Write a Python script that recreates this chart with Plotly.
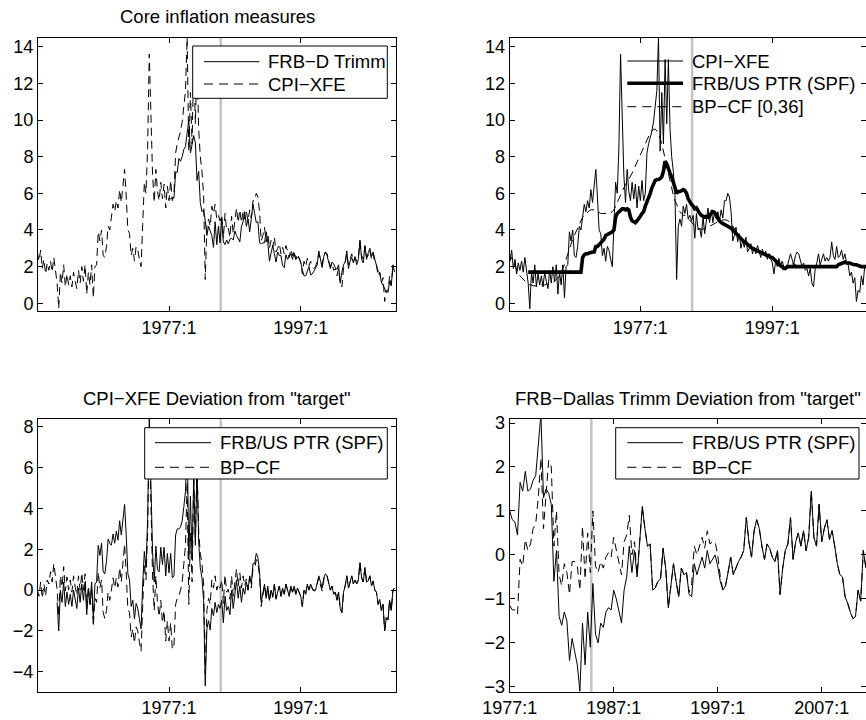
import numpy as np
import plotly.graph_objects as go

# ---------------------------------------------------------------- data
# quarterly observations, 1957:1 - 2011:2 (annualised rates, percent)
years = list(range(1957, 2012))
quarters = [y + q / 4 for y in years for q in range(4)][:218]

cpi_xfe = [
    2.8, 2.3, 2.9, 1.9,   # 1957
    2.4, 1.6, 2.2, 1.8,   # 1958
    2.3, 1.7, 2.5, 1.6,   # 1959
    1.1, -0.3, 1.7, 1.1,  # 1960
    2.1, 0.9, 1.6, 1.0,   # 1961
    1.5, 0.9, 1.7, 1.2,   # 1962
    0.8, 1.8, 1.1, 2.0,   # 1963
    1.2, 2.1, 0.5, 1.7,   # 1964
    1.0, 2.1, 0.3, 2.0,   # 1965
    2.1, 3.9, 3.4, 4.0,   # 1966
    2.6, 2.5, 3.1, 4.2,   # 1967
    4.0, 4.7, 5.4, 5.0,   # 1968
    5.6, 5.2, 6.2, 5.5,   # 1969
    6.3, 7.3, 5.8, 4.0,   # 1970
    3.8, 2.6, 3.0, 2.3,   # 1971
    3.1, 2.9, 2.4, 2.0,   # 1972
    4.3, 6.6, 6.0, 8.5,   # 1973
    13.6, 10.2, 7.0, 5.5,  # 1974
    7.3, 6.1, 5.6, 6.6,   # 1975
    5.7, 6.5, 5.2, 6.4,   # 1976
    5.6, 6.7, 5.6, 6.0,   # 1977
    8.2, 8.7, 9.0, 9.4,   # 1978
    9.9, 10.8, 11.6, 14.5,  # 1979
    8.3, 11.5, 8.7, 13.3,  # 1980
    9.8, 13.3, 9.5, 8.0,  # 1981
    7.2, 5.9, 1.3, 4.2,   # 1982
    4.6, 4.2, 5.3, 4.9,   # 1983
    5.4, 4.6, 4.8, 4.5,   # 1984
    4.8, 3.55, 4.9, 4.0,  # 1985
    4.1, 3.6, 4.75, 3.8,  # 1986
    4.45, 5.2, 4.4, 5.1,  # 1987
    4.4, 5.05, 4.6, 5.0,  # 1988
    4.5, 5.1, 4.65, 5.6,  # 1989
    5.6, 6.0, 5.8, 5.0,   # 1990
    3.4, 3.7, 4.15, 3.35,  # 1991
    3.8, 3.0, 3.45, 3.05,  # 1992
    3.6, 2.8, 3.0, 3.25,  # 1993
    2.7, 3.05, 2.7, 3.15,  # 1994
    2.85, 2.5, 2.95, 2.6,  # 1995
    2.85, 2.4, 2.7, 2.4,  # 1996
    2.2, 1.6, 2.3, 2.0,   # 1997
    2.45, 2.05, 2.3, 2.0,  # 1998
    1.9, 2.0, 2.3, 2.7,   # 1999
    2.4, 2.1, 2.6, 2.8,   # 2000
    2.7, 2.3, 2.0, 2.2,   # 2001
    1.8, 1.9, 1.5, 1.9,   # 2002
    1.1, 0.9, 1.9, 2.2,   # 2003
    2.7, 2.1, 2.4, 2.7,   # 2004
    2.3, 2.5, 2.3, 2.5,   # 2005
    3.35, 2.6, 2.4, 3.1,  # 2006
    2.5, 2.6, 2.9, 2.4,   # 2007
    2.7, 2.2, 2.1, 1.5,   # 2008
    1.7, 1.1, 1.4, 0.1,   # 2009
    0.7, 0.6, 1.5, 1.0,   # 2010
    2.0, 2.1,             # 2011
]

frbus_ptr = [None] * 12 + [   # series begins 1960:1
    1.7, 1.7, 1.7, 1.7,   # 1960
    1.7, 1.7, 1.7, 1.7,   # 1961
    1.7, 1.7, 1.7, 1.7,   # 1962
    1.7, 1.7, 1.7, 1.7,   # 1963
    1.7, 1.7, 1.7, 1.7,   # 1964
    1.7, 1.7, 1.7, 1.7,   # 1965
    1.7, 1.7, 1.7, 1.7,   # 1966
    1.7, 1.7, 1.7, 1.7,   # 1967
    1.7, 2.5, 2.65, 2.7,  # 1968
    2.7, 2.75, 2.8, 2.8,  # 1969
    2.8, 3.1, 3.1, 3.2,   # 1970
    3.3, 3.4, 3.5, 3.7,   # 1971
    3.75, 3.8, 3.8, 3.9,  # 1972
    4.0, 4.7, 4.9, 5.0,   # 1973
    5.1, 5.15, 5.15, 5.1,  # 1974
    5.15, 5.1, 4.7, 4.5,  # 1975
    4.45, 4.4, 4.5, 4.6,  # 1976
    4.75, 4.9, 5.0, 5.3,  # 1977
    5.5, 5.7, 6.0, 6.3,   # 1978
    6.5, 6.7, 6.75, 6.75,  # 1979
    6.8, 6.9, 7.2, 7.75,  # 1980
    7.6, 7.3, 7.1, 6.9,   # 1981
    6.6, 6.4, 6.0, 6.1,   # 1982
    6.1, 6.15, 6.2, 6.15,  # 1983
    6.0, 5.7, 5.5, 5.4,   # 1984
    5.3, 5.15, 5.2, 5.0,  # 1985
    4.9, 4.8, 4.75, 4.7,  # 1986
    4.75, 4.7, 4.8, 4.9,  # 1987
    5.0, 4.95, 4.8, 4.6,  # 1988
    4.5, 4.4, 4.35, 4.3,  # 1989
    4.3, 4.2, 4.2, 4.1,   # 1990
    4.0, 3.9, 3.85, 3.75,  # 1991
    3.6, 3.5, 3.45, 3.35,  # 1992
    3.3, 3.2, 3.1, 3.05,  # 1993
    3.0, 2.95, 2.9, 2.85,  # 1994
    2.85, 2.8, 2.75, 2.7,  # 1995
    2.65, 2.6, 2.6, 2.5,  # 1996
    2.5, 2.4, 2.3, 2.2,   # 1997
    2.15, 2.05, 2.0, 1.9,  # 1998
    1.9, 2.0, 2.0, 2.0,   # 1999
    2.0, 2.0, 2.0, 2.0,   # 2000
    2.0, 2.0, 2.0, 2.0,   # 2001
    2.0, 2.0, 2.0, 2.0,   # 2002
    2.0, 2.0, 2.0, 2.0,   # 2003
    2.0, 2.0, 2.0, 2.0,   # 2004
    2.0, 2.0, 2.0, 2.0,   # 2005
    2.0, 2.0, 2.0, 2.0,   # 2006
    2.1, 2.15, 2.2, 2.2,  # 2007
    2.25, 2.2, 2.2, 2.2,  # 2008
    2.15, 2.1, 2.1, 2.1,  # 2009
    2.05, 2.05, 2.0, 2.0,  # 2010
    2.0, 2.0,             # 2011
]

bp_cf = [
    2.8, 2.6, 2.5, 2.3,   # 1957
    2.1, 1.9, 1.7, 1.5,   # 1958
    1.4, 1.3, 1.2, 1.1,   # 1959
    1.05, 1.0, 1.0, 0.95,  # 1960
    0.95, 0.95, 0.95, 1.0,  # 1961
    1.0, 1.0, 1.0, 1.05,  # 1962
    1.05, 1.1, 1.1, 1.15,  # 1963
    1.2, 1.3, 1.4, 1.5,   # 1964
    1.7, 1.9, 2.1, 2.4,   # 1965
    2.7, 3.0, 3.3, 3.5,   # 1966
    3.7, 3.9, 4.1, 4.3,   # 1967
    4.5, 4.7, 4.8, 4.9,   # 1968
    5.0, 5.05, 5.1, 5.1,  # 1969
    5.1, 5.05, 5.0, 4.95,  # 1970
    4.9, 4.9, 4.9, 4.9,   # 1971
    4.9, 4.9, 4.95, 5.0,  # 1972
    5.1, 5.3, 5.5, 5.7,   # 1973
    5.9, 6.1, 6.3, 6.5,   # 1974
    6.6, 6.75, 6.9, 7.1,  # 1975
    7.3, 7.5, 7.7, 7.9,   # 1976
    8.1, 8.3, 8.5, 8.7,   # 1977
    8.9, 9.1, 9.3, 9.4,   # 1978
    9.5, 9.5, 9.4, 9.2,   # 1979
    9.0, 8.7, 8.3, 7.9,   # 1980
    7.4, 7.0, 6.6, 6.2,   # 1981
    5.9, 5.6, 5.4, 5.2,   # 1982
    5.0, 4.9, 4.8, 4.8,   # 1983
    4.7, 4.6, 4.5, 4.4,   # 1984
    4.3, 4.2, 4.15, 4.1,  # 1985
    4.05, 4.05, 4.05, 4.1,  # 1986
    4.1, 4.15, 4.2, 4.25,  # 1987
    4.3, 4.35, 4.4, 4.45,  # 1988
    4.5, 4.5, 4.55, 4.55,  # 1989
    4.55, 4.5, 4.45, 4.35,  # 1990
    4.2, 4.05, 3.9, 3.75,  # 1991
    3.65, 3.55, 3.45, 3.4,  # 1992
    3.35, 3.25, 3.15, 3.05,  # 1993
    3.0, 2.95, 2.9, 2.85,  # 1994
    2.85, 2.8, 2.75, 2.7,  # 1995
    2.65, 2.6, 2.6, 2.5,  # 1996
    2.5, 2.4, 2.3, 2.2,   # 1997
    2.15, 2.05, 2.0, 1.95,  # 1998
    1.95, 2.0, 2.05, 2.1,  # 1999
    2.15, 2.15, 2.1, 2.05,  # 2000
    2.0, 2.0, 2.0, 2.0,   # 2001
    2.0, 2.0, 2.0, 2.0,   # 2002
    2.0, 2.0, 2.0, 2.0,   # 2003
    2.0, 2.0, 2.0, 2.0,   # 2004
    2.0, 2.0, 2.0, 2.0,   # 2005
    2.0, 2.0, 2.0, 2.0,   # 2006
    2.1, 2.15, 2.2, 2.2,  # 2007
    2.25, 2.2, 2.2, 2.2,  # 2008
    2.15, 2.1, 2.1, 2.1,  # 2009
    2.05, 2.05, 2.0, 2.0,  # 2010
    2.0, 2.0,             # 2011
]

# Dallas Fed trimmed-mean, 1977:1 - 2011:2
dallas_trimm = [
    5.75, 5.7, 5.75, 5.75,  # 1977
    7.15, 7.15, 7.9, 7.75,  # 1978
    8.0, 8.4, 8.55, 9.15,  # 1979
    10.0, 8.2, 8.7, 9.15,  # 1980
    8.75, 6.7, 7.2, 5.5,  # 1981
    5.0, 5.1, 4.5, 3.7,   # 1982
    4.2, 3.95, 3.7, 3.05,  # 1983
    4.45, 3.2, 4.2, 3.3,  # 1984
    4.65, 3.35, 3.2, 3.45,  # 1985
    3.25, 3.5, 3.55, 3.45,  # 1986
    3.95, 3.7, 3.5, 3.35,  # 1987
    4.2, 4.45, 5.0, 4.2,  # 1988
    4.6, 3.9, 4.65, 5.4,  # 1989
    4.9, 4.4, 4.45, 3.3,  # 1990
    3.25, 3.3, 3.3, 3.9,  # 1991
    3.3, 2.3, 2.75, 3.15,  # 1992
    2.7, 2.25, 2.8, 2.6,  # 1993
    2.6, 2.05, 1.95, 2.65,  # 1994
    2.4, 2.55, 2.7, 2.4,  # 1995
    2.75, 2.4, 2.5, 2.5,  # 1996
    2.25, 1.8, 1.5, 1.5,  # 1997
    1.75, 2.0, 1.55, 1.6,  # 1998
    1.75, 1.95, 2.1, 2.85,  # 1999
    2.3, 1.95, 2.55, 2.8,  # 2000
    2.6, 2.2, 1.9, 2.25,  # 2001
    2.15, 1.95, 1.85, 2.1,  # 2002
    1.1, 1.7, 2.1, 2.25,  # 2003
    2.85, 1.9, 2.3, 2.5,  # 2004
    2.2, 2.55, 2.1, 2.4,  # 2005
    3.45, 2.4, 2.2, 3.15,  # 2006
    2.4, 2.75, 3.0, 2.55,  # 2007
    2.8, 2.4, 2.0, 1.75,  # 2008
    1.65, 1.15, 1.0, 0.8,  # 2009
    0.6, 0.65, 1.2, 0.95,  # 2010
    2.1, 1.7,             # 2011
]

# band-pass (CF) trend of the trimmed-mean series, 1977:1 - 2011:2
trimm_bp_trend = [
    6.9, 6.95, 7.0, 7.1,  # 1977
    7.25, 7.4, 7.55, 7.65,  # 1978
    7.75, 7.8, 7.85, 7.85,  # 1979
    7.8, 7.6, 7.3, 7.0,   # 1980
    6.75, 6.5, 6.2, 5.95,  # 1981
    5.7, 5.3, 4.9, 4.6,   # 1982
    4.35, 4.1, 3.95, 3.85,  # 1983
    3.8, 3.75, 3.7, 3.7,  # 1984
    3.65, 3.6, 3.6, 3.6,  # 1985
    3.55, 3.55, 3.5, 3.5,  # 1986
    3.55, 3.6, 3.7, 3.8,  # 1987
    3.9, 4.0, 4.1, 4.2,   # 1988
    4.3, 4.35, 4.35, 4.3,  # 1989
    4.3, 4.2, 4.2, 4.1,   # 1990
    4.0, 3.9, 3.85, 3.75,  # 1991
    3.6, 3.5, 3.45, 3.35,  # 1992
    3.3, 3.2, 3.1, 3.05,  # 1993
    3.0, 2.9, 2.6, 2.45,  # 1994
    2.4, 2.35, 2.3, 2.25,  # 1995
    2.2, 2.15, 2.2, 2.2,  # 1996
    2.25, 2.3, 2.3, 2.2,  # 1997
    2.15, 2.05, 2.0, 1.9,  # 1998
    1.9, 2.0, 2.0, 2.0,   # 1999
    2.0, 2.0, 2.0, 2.0,   # 2000
    2.0, 2.0, 2.0, 2.0,   # 2001
    2.0, 2.0, 2.0, 2.0,   # 2002
    2.0, 2.0, 2.0, 2.0,   # 2003
    2.0, 2.0, 2.0, 2.0,   # 2004
    2.0, 2.0, 2.0, 2.0,   # 2005
    2.0, 2.0, 2.0, 2.0,   # 2006
    2.1, 2.15, 2.2, 2.2,  # 2007
    2.25, 2.2, 2.2, 2.2,  # 2008
    2.15, 2.1, 2.1, 2.1,  # 2009
    2.05, 2.05, 2.0, 2.0,  # 2010
    2.0, 2.0,             # 2011
]

break_date = 1984.85   # vertical marker in every panel

tick_top = [1977, 1997]
tick_top_text = ["1977:1", "1997:1"]
tick_br = [1977, 1987, 1997, 2007]
tick_br_text = ["1977:1", "1987:1", "1997:1", "2007:1"]

# ---------------------------------------------------------------- derived
q = np.array(quarters)
cpi = np.array(cpi_xfe, dtype=float)
ptr = np.array(frbus_ptr, dtype=float)
bpcf = np.array(bp_cf, dtype=float)
start_trimm = quarters.index(1977.0)
q_trimm = q[start_trimm:start_trimm + len(dallas_trimm)]
trimm = np.array(dallas_trimm, dtype=float)
trimm_trend = np.array(trimm_bp_trend, dtype=float)

cpi_gap_ptr = cpi - ptr
cpi_gap_bp = cpi - bpcf
trimm_gap_ptr = trimm - ptr[start_trimm:start_trimm + len(trimm)]
trimm_gap_bp = trimm - trimm_trend

# ---------------------------------------------------------------- figure
W, H = 866, 720
FONT = "Liberation Sans, Arial, Helvetica, sans-serif"
TXT = 18.5
DASH = "8px,5px"


def px(x):
    return x / W


def py(y):
    return 1 - y / H


fig = go.Figure()


def line(x, y, ax, width=1.0, dash=None):
    fig.add_trace(go.Scatter(
        x=x, y=y, mode="lines", xaxis="x" + ax, yaxis="y" + ax,
        line=dict(color="black", width=width, dash=dash),
        hoverinfo="skip", showlegend=False, connectgaps=False))


# top left: core measures
line(q_trimm, trimm, "")
line(q, cpi, "", dash=DASH)
# top right: CPI-XFE with trend estimates
line(q, cpi, "2")
line(q, ptr, "2", width=3.6)
line(q, bpcf, "2", dash=DASH)
# bottom left: CPI-XFE gaps
line(q, cpi_gap_ptr, "3")
line(q, cpi_gap_bp, "3", dash=DASH)
# bottom right: trimmed-mean gaps
line(q_trimm, trimm_gap_ptr, "4")
line(q_trimm, trimm_gap_bp, "4", dash=DASH)

dom_left = [px(38), px(396)]
dom_right = [px(509.7), 1.0]
dom_top = [py(311), py(37.7)]
dom_bot = [py(691.7), py(418.6)]

axis_common = dict(
    showgrid=False, zeroline=False, showline=True, linecolor="black",
    linewidth=1, mirror="ticks", ticks="inside", ticklen=5, tickwidth=1,
    tickcolor="black", automargin=False,
    tickfont=dict(family=FONT, size=18, color="black"),
)

fig.update_layout(
    template="none",
    width=W, height=H, margin=dict(l=0, r=0, t=0, b=0, pad=0),
    paper_bgcolor="white", plot_bgcolor="white", showlegend=False,
    font=dict(family=FONT, size=18, color="black"),
    xaxis=dict(domain=dom_left, range=[1957.1, 2011.47], anchor="y",
               tickvals=tick_top, ticktext=tick_top_text, **axis_common),
    yaxis=dict(domain=dom_top, range=[-0.42, 14.49], anchor="x",
               tickvals=list(range(0, 15, 2)), **axis_common),
    xaxis2=dict(domain=dom_right, range=[1957.2, 2011.2], anchor="y2",
                tickvals=tick_top, ticktext=tick_top_text, **axis_common),
    yaxis2=dict(domain=dom_top, range=[-0.42, 14.49], anchor="x2",
                tickvals=list(range(0, 15, 2)), **axis_common),
    xaxis3=dict(domain=dom_left, range=[1957.1, 2011.47], anchor="y3",
                tickvals=tick_top, ticktext=tick_top_text, **axis_common),
    yaxis3=dict(domain=dom_bot, range=[-4.98, 8.41], anchor="x3",
                tickvals=list(range(-4, 9, 2)), **axis_common),
    xaxis4=dict(domain=dom_right, range=[1977.0, 2011.26], anchor="y4",
                tickvals=tick_br, ticktext=tick_br_text, **axis_common),
    yaxis4=dict(domain=dom_bot, range=[-3.11, 3.1], anchor="x4",
                tickvals=list(range(-3, 4)), **axis_common),
)

shapes = []
# break-date marker
for ax in ["", "2", "3", "4"]:
    shapes.append(dict(type="line", xref="x" + ax, yref="y" + ax + " domain",
                       x0=break_date, x1=break_date, y0=0, y1=1,
                       line=dict(color="#c4c4c4", width=2.5), layer="below"))

annotations = []


def legend(box, x0, x1, rows):
    """Box (or none), sample lines and labels, in pixel positions."""
    if box is not None:
        bx0, by0, bx1, by1 = box
        shapes.append(dict(type="rect", xref="paper", yref="paper",
                           x0=px(bx0), x1=px(bx1), y0=py(by1), y1=py(by0),
                           fillcolor="white", line=dict(color="black", width=1),
                           layer="above"))
    for y, text, width, dash in rows:
        shapes.append(dict(type="line", xref="paper", yref="paper",
                           x0=px(x0), x1=px(x1), y0=py(y), y1=py(y),
                           line=dict(color="black", width=width,
                                     dash=dash or "solid"),
                           layer="above"))
        annotations.append(dict(xref="paper", yref="paper", x=px(x1 + 6.5),
                                y=py(y), text=text, showarrow=False,
                                xanchor="left", yanchor="middle",
                                font=dict(family=FONT, size=TXT, color="black")))


LEG_DASH = "9px,6px"
legend((192.7, 46, 387.3, 98.3), 204, 259.5,
       [(61.7, "FRB−D Trimm", 1, None), (84, "CPI−XFE", 1, LEG_DASH)])
legend(None, 627.3, 683,
       [(61, "CPI−XFE", 1, None), (83.3, "FRB/US PTR (SPF)", 3.6, None),
        (106.7, "BP−CF [0,36]", 1, LEG_DASH)])
legend((144.7, 427.7, 387.3, 479), 155, 211,
       [(442.7, "FRB/US PTR (SPF)", 1, None), (467.3, "BP−CF", 1, LEG_DASH)])
legend((615.7, 427.7, 859, 479), 627.3, 683,
       [(442.7, "FRB/US PTR (SPF)", 1, None), (467.3, "BP−CF", 1, LEG_DASH)])

# panel titles
for x, y, text in [(217, 16.7, "Core inflation measures"),
                   (217, 398, "CPI−XFE Deviation from \"target\""),
                   (687.7, 398, "FRB−Dallas Trimm Deviation from \"target\"")]:
    annotations.append(dict(xref="paper", yref="paper", x=px(x), y=py(y),
                            text=text, showarrow=False, xanchor="center",
                            yanchor="middle",
                            font=dict(family=FONT, size=TXT, color="black")))

fig.update_layout(shapes=shapes, annotations=annotations)
fig.write_html("out.html")
